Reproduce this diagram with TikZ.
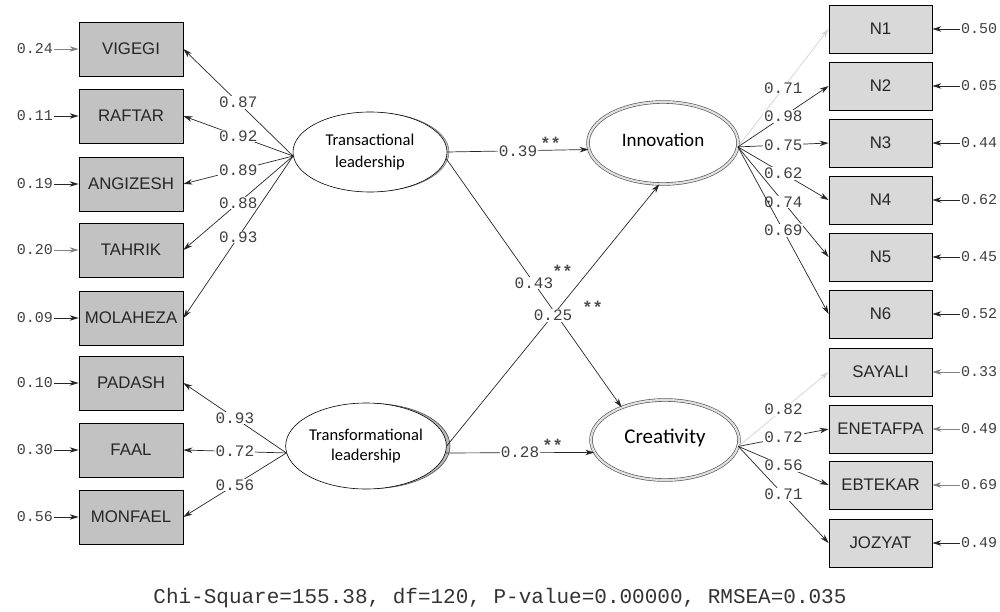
\documentclass[tikz,border=0pt]{standalone}
\usepackage{fontspec}
\usetikzlibrary{shapes.geometric,arrows.meta,calc}
\newfontfamily\boxfont{Liberation Sans}
\newfontfamily\numfont{Liberation Mono}
\newfontfamily\latfont{Carlito}
\definecolor{boxL}{gray}{0.76}
\definecolor{boxR}{gray}{0.85}
\definecolor{ln}{gray}{0.15}

\begin{document}
\begin{tikzpicture}[x=1pt,y=-1pt,
    ind/.style={draw=black,line width=0.8pt,minimum width=104pt,minimum height=54pt,inner sep=0pt,
        font=\boxfont\fontsize{16.8}{16.8}\selectfont,text=black!85},
    lat/.style={ellipse,draw=black,line width=0.6pt,fill=white,inner sep=0pt,align=center},
    lab/.style={fill=white,inner sep=1pt,font=\numfont\fontsize{16}{16}\selectfont,text=black!75},
    errv/.style={inner sep=1pt,font=\numfont\fontsize{15}{15}\selectfont,text=black!75},
    star/.style={inner sep=0pt,font=\numfont\bfseries\fontsize{17}{17}\selectfont,text=black!70},
    arr/.style={draw=ln,line width=0.7pt,-{Stealth[length=9pt,width=5.5pt]}}
    ]

    \useasboundingbox (0,0) rectangle (1000,612);

    % grey rims behind the two leadership ellipses
    \draw[black!60,line width=0.5pt,fill=gray!40] (373,152) ellipse [x radius=76, y radius=39.5];
    \draw[black!70,line width=0.6pt,fill=gray!55] (372,446) ellipse [x radius=78, y radius=42.5];

    % latent variables
    \node[lat,minimum width=154pt,minimum height=80pt,
        font=\latfont\fontsize{16.5}{22}\selectfont] (tra) at (370,152) {Transactional\\leadership};
    \node[lat,minimum width=157pt,minimum height=86pt,
        font=\latfont\fontsize{16.5}{20}\selectfont] (trf) at (366,446) {Transformational\\leadership};
    \node[lat,minimum width=150pt,minimum height=82pt,draw=black!70,double=gray!25,double distance=2.2pt,
        font=\latfont\fontsize{19}{19}\selectfont] (inn) at (663,143) {\raisebox{7pt}{Innovation}};
    \node[lat,minimum width=148pt,minimum height=80pt,draw=black!70,double=gray!25,double distance=2.2pt,
        font=\latfont\fontsize{21}{21}\selectfont] (cre) at (665,440) {\raisebox{7pt}{Creativity}};

    % indicators, left
    \foreach \n/\y/\t/\ev/\col in {vig/49/VIGEGI/0.24/gray,raf/116/RAFTAR/0.11/ln,ang/184/ANGIZESH/0.19/ln,
            tah/250/TAHRIK/0.20/gray,mol/318/MOLAHEZA/0.09/ln,pad/383/PADASH/0.10/ln,
            faa/450/FAAL/0.30/ln,mon/517/MONFAEL/0.56/ln} {
        \node[ind,fill=boxL] (\n) at (131,\y) {\t};
        \node[errv,anchor=east] (e\n) at (54,\y) {\ev};
        \draw[arr,draw=\col] (e\n) -- (\n);
    }

    % indicators, right
    \foreach \n/\y/\t/\ev/\col in {n1/29/N1/0.50/ln,n2/86/N2/0.05/ln,n3/143/N3/0.44/ln,n4/200/N4/0.62/ln,
            n5/257/N5/0.45/ln,n6/314/N6/0.52/ln,say/372/SAYALI/0.33/gray,ene/429/ENETAFPA/0.49/gray,
            ebt/485/EBTEKAR/0.69/gray,joz/543/JOZYAT/0.49/ln} {
        \node[ind,fill=boxR,minimum width=103pt,minimum height=48pt] (\n) at (880.5,\y) {\t};
        \node[errv,anchor=west] (e\n) at (960,\y) {\ev};
        \draw[arr,draw=\col] (e\n) -- (\n);
    }

    % loadings
    \foreach \n/\v in {vig/0.87,raf/0.92,ang/0.89,tah/0.88,mol/0.93}
        \draw[arr] (tra.183) -- (\n.east) node[lab,pos=.5] (l\n) {\v};
    \foreach \n/\v in {pad/0.93,faa/0.72,mon/0.56}
        \draw[arr] (trf.185) -- (\n.east) node[lab,pos=.5] (l\n) {\v};
    \foreach \n/\v/\col in {n1/0.71/gray!35,n2/0.98/ln,n3/0.75/ln,n4/0.62/ln,n5/0.74/ln,n6/0.69/ln}
        \draw[arr,draw=\col] (inn.-3) -- (\n.west) node[lab,pos=.5] (l\n) {\v};
    \foreach \n/\v/\col in {say/0.82/gray!35,ene/0.72/ln,ebt/0.56/ln,joz/0.71/ln}
        \draw[arr,draw=\col] (cre.-5) -- (\n.west) node[lab,pos=.5] (l\n) {\v};

    % structural paths
    \draw[arr] (tra.east) -- (inn.185) node[lab,pos=.5] (l39) {0.39};
    \node[star] (s39) at ($(l39.north east)+(12,-1)$) {**};
    \draw[arr] (tra.-5) -- (cre.143) node[lab,pos=.5] (l43) {0.43};
    \node[star] (s43) at ($(l43.north east)+(8,-5)$) {**};
    \draw[arr] (trf.east) -- (inn.265) node[lab,pos=.5] (l25) {0.25};
    \node[star] (s25) at ($(l25.north east)+(19,-1)$) {**};
    \draw[arr] (trf.-5) -- (cre.190) node[lab,pos=.5] (l28) {0.28};
    \node[star] (s28) at ($(l28.north east)+(12,-1)$) {**};

    \node[font=\numfont\fontsize{21}{21}\selectfont,text=black!80] (fit) at (500,598)
        {Chi-Square=155.38, df=120, P-value=0.00000, RMSEA=0.035};

\end{tikzpicture}
\end{document}
